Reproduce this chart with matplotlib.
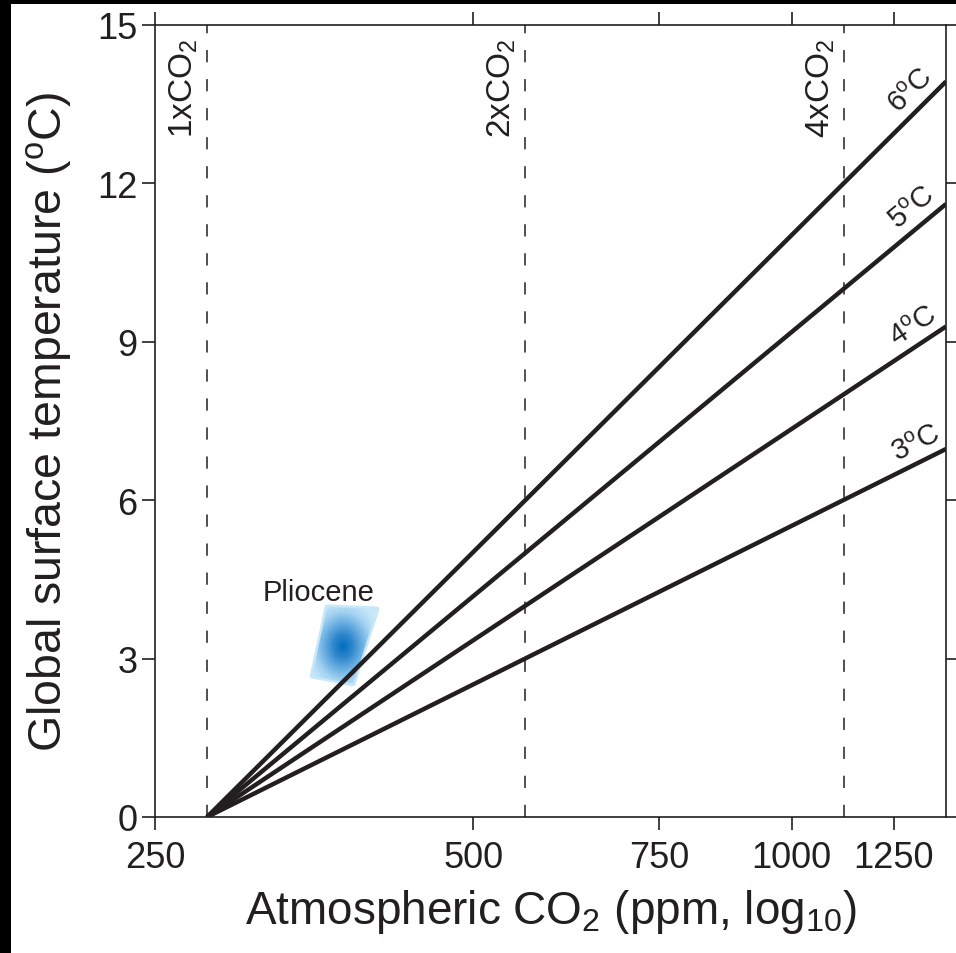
import numpy as np
import matplotlib
matplotlib.use("Agg")
import matplotlib.pyplot as plt
from matplotlib.patches import Polygon, Rectangle
from matplotlib.colors import LinearSegmentedColormap
from matplotlib.ticker import FixedLocator, NullLocator

plt.rcParams["font.family"] = ["Liberation Sans", "DejaVu Sans"]
plt.rcParams["mathtext.fontset"] = "custom"
plt.rcParams["mathtext.rm"] = "Liberation Sans"
plt.rcParams["mathtext.it"] = "Liberation Sans:italic"

INK = "#231f20"

# ---------------- data ----------------
co2_start = 280.0            # pre-industrial, where all lines start
co2_end = 1400.0             # right edge of the plot
sens_labels = ["3$^{\\rm o}$C", "4$^{\\rm o}$C", "5$^{\\rm o}$C", "6$^{\\rm o}$C"]
temp_end = [6.97, 9.29, 11.61, 13.93]   # temperature at co2_end for each line

doubling_co2 = [280, 560, 1120]
doubling_labels = ["1xCO$_2$", "2xCO$_2$", "4xCO$_2$"]

x_ticks = [250, 500, 750, 1000, 1250]
y_ticks = [0, 3, 6, 9, 12, 15]

# Pliocene blob outline (ppm, degC) and its darkest point
plio_x = [363.6, 405.5, 384.8, 352.0]
plio_y = [3.98, 3.94, 2.52, 2.67]
plio_cx, plio_cy = 376.6, 3.24
plio_text_x, plio_text_y = 357.0, 4.27

# ---------------- figure ----------------
fig = plt.figure(figsize=(9.56, 9.54), dpi=100)
ax = fig.add_axes([155 / 956, 1 - 818 / 954, 791 / 956, 792 / 954])

ax.set_xscale("log")
ax.set_xlim(250, co2_end)
ax.set_ylim(0, 15)

# doubling markers
for c, lab in zip(doubling_co2, doubling_labels):
    ax.axvline(c, color=INK, lw=1.1, dashes=(8, 11), zorder=1)
    ax.annotate(lab, xy=(c, 15), xytext=(-5, -9), textcoords="offset points",
                rotation=90, ha="right", va="top", fontsize=24, color=INK)

# climate-sensitivity lines
for lab, te in zip(sens_labels, temp_end):
    ax.plot([co2_start, co2_end], [0, te], color=INK, lw=3.2,
            solid_capstyle="butt", zorder=3)
    p0 = ax.transData.transform((co2_start, 0))
    p1 = ax.transData.transform((co2_end, te))
    ang = np.degrees(np.arctan2(p1[1] - p0[1], p1[0] - p0[0]))
    xl = 1335.0
    yl = te * np.log2(xl / co2_start) / np.log2(co2_end / co2_start)
    d = 13.5
    ax.annotate(lab, xy=(xl, yl),
                xytext=(-d * np.sin(np.radians(ang)), d * np.cos(np.radians(ang))),
                textcoords="offset points", rotation=ang, rotation_mode="anchor",
                ha="center", va="center", fontsize=21, color=INK)

# Pliocene blob: radial blue gradient clipped to a rounded quadrilateral
to_axes = ax.transData + ax.transAxes.inverted()
va = to_axes.transform(np.column_stack([plio_x, plio_y]))
ca = to_axes.transform((plio_cx, plio_cy))
x0, x1 = va[:, 0].min() - 0.01, va[:, 0].max() + 0.01
y0, y1 = va[:, 1].min() - 0.01, va[:, 1].max() + 0.01
gx, gy = np.meshgrid(np.linspace(x0, x1, 200), np.linspace(y0, y1, 200))
axw, axh = 791.0, 792.0
r = np.sqrt(((gx - ca[0]) * axw / 38) ** 2 + ((gy - ca[1]) * axh / 47) ** 2)
blues = LinearSegmentedColormap.from_list(
    "plio", ["#006ebe", "#2f86cc", "#6aaee2", "#a6d4f2", "#c8e8fa"])
blob_edge = Polygon(va, closed=True, transform=ax.transAxes, facecolor="#c8e8fa",
                    edgecolor="#c8e8fa", lw=3.5, joinstyle="round", zorder=2)
ax.add_patch(blob_edge)
im = ax.imshow(np.clip(r, 0, 1), cmap=blues, vmin=0, vmax=1, origin="lower",
               extent=(x0, x1, y0, y1), transform=ax.transAxes,
               interpolation="bilinear", zorder=2.1, aspect="auto")
im.set_clip_path(Polygon(va, closed=True, transform=ax.transAxes))
ax.set_xlim(250, co2_end)
ax.set_ylim(0, 15)
ax.text(plio_text_x, plio_text_y, "Pliocene", ha="center", va="center",
        fontsize=21, color=INK)

# axes styling
ax.xaxis.set_major_locator(FixedLocator(x_ticks))
ax.xaxis.set_minor_locator(NullLocator())
ax.set_xticklabels([str(t) for t in x_ticks])
ax.set_yticks(y_ticks)
ax.tick_params(axis="both", which="major", direction="out", length=9.5, width=1.2,
               labelsize=26, colors=INK, pad=3, top=True, right=True)
ax.tick_params(axis="x", pad=7)
for sp in ax.spines.values():
    sp.set_linewidth(1.2)
    sp.set_color(INK)

ax.set_xlabel("Atmospheric CO$_2$ (ppm, log$_{10}$)", fontsize=33, color=INK, labelpad=9)
ax.set_ylabel("Global surface temperature ($^{\\rm o}$C)", fontsize=33.5, color=INK, labelpad=17)

# dark frame strips on the left and top edges of the image
fig.patches.append(Rectangle((0, 0), 11 / 956, 1, transform=fig.transFigure,
                             facecolor="black", edgecolor="none"))
fig.patches.append(Rectangle((0, 1 - 5 / 954), 1, 5 / 954, transform=fig.transFigure,
                             facecolor="black", edgecolor="none"))

fig.savefig("out.png", dpi=100)
